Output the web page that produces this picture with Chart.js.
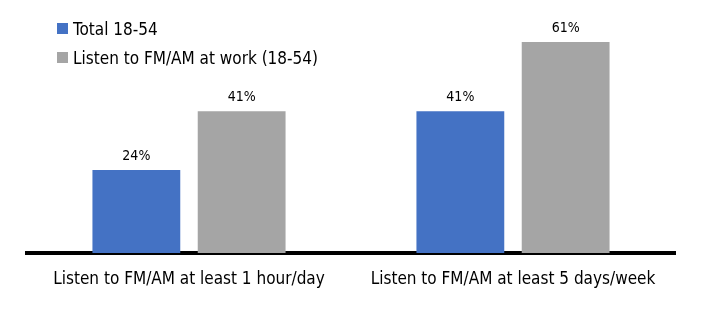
<!DOCTYPE html>
<html>
<head>
<meta charset="utf-8">
<script src="https://cdn.jsdelivr.net/npm/chart.js@4"></script>
<style>
  html, body { margin: 0; padding: 0; background: #fff; }
  #wrap { position: relative; width: 703px; height: 323px; }
  canvas { position: absolute; left: 0; top: 0; }
  #legend { position: absolute; left: 57px; top: 14px; font-family: "DejaVu Sans Condensed", sans-serif; font-size: 17px; color: #000; }
  .item { display: flex; align-items: center; height: 29px; }
  .sw { width: 11px; height: 11px; margin-right: 5px; }
</style>
</head>
<body>
<div id="wrap">
  <canvas id="c" width="703" height="323"></canvas>
  <div id="legend"></div>
</div>
<script>
const categories = ["Listen to FM/AM at least 1 hour/day", "Listen to FM/AM at least 5 days/week"];
const seriesNames = ["Total 18-54", "Listen to FM/AM at work (18-54)"];
const totalValues = [24, 41];
const atWorkValues = [41, 61];
const colors = ["#4472C4", "#A5A5A5"];
const FONT = '"DejaVu Sans Condensed", sans-serif';

const valueLabels = {
  id: 'valueLabels',
  afterDatasetsDraw(chart) {
    const ctx = chart.ctx;
    ctx.save();
    ctx.font = '14px ' + FONT;
    ctx.fillStyle = '#000';
    ctx.textAlign = 'center';
    ctx.textBaseline = 'alphabetic';
    chart.data.datasets.forEach((ds, i) => {
      chart.getDatasetMeta(i).data.forEach((bar, j) => {
        ctx.fillText(ds.data[j] + '%', bar.x, bar.y - 10);
      });
    });
    ctx.restore();
  }
};

const chart = new Chart(document.getElementById('c'), {
  type: 'bar',
  data: {
    labels: categories,
    datasets: [
      { label: seriesNames[0], data: totalValues, backgroundColor: colors[0] },
      { label: seriesNames[1], data: atWorkValues, backgroundColor: colors[1] }
    ]
  },
  options: {
    responsive: false,
    animation: false,
    devicePixelRatio: 1,
    layout: { padding: { top: 11, left: 27, right: 28, bottom: 0 } },
    datasets: { bar: { categoryPercentage: 0.65, barPercentage: 0.834 } },
    plugins: { legend: { display: false }, tooltip: { enabled: false } },
    scales: {
      x: {
        grid: { display: false, drawTicks: false },
        border: { display: true, width: 4, color: '#000' },
        ticks: { color: '#000', font: { family: FONT, size: 17 }, padding: 16, maxRotation: 0 },
        afterFit(scale) { scale.height = 70; }
      },
      y: { display: false, min: 0, max: 70 }
    }
  },
  plugins: [valueLabels]
});

const legend = document.getElementById('legend');
chart.data.datasets.forEach(ds => {
  const it = document.createElement('div');
  it.className = 'item';
  const sw = document.createElement('span');
  sw.className = 'sw';
  sw.style.background = ds.backgroundColor;
  const tx = document.createElement('span');
  tx.textContent = ds.label;
  it.appendChild(sw); it.appendChild(tx);
  legend.appendChild(it);
});
</script>
</body>
</html>
